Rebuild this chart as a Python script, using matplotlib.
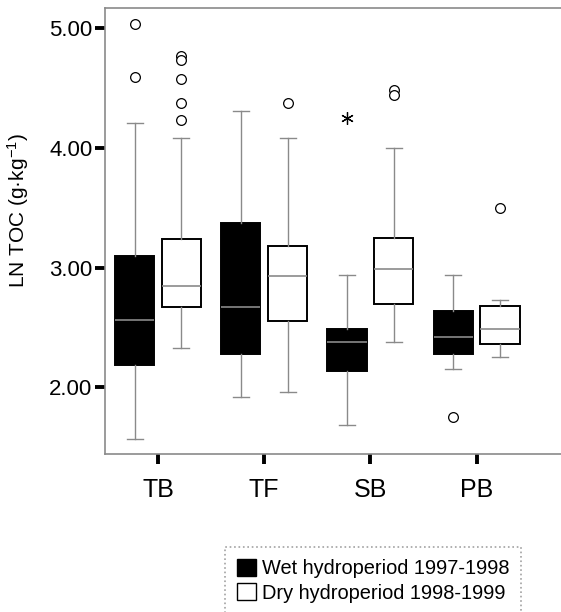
import matplotlib
matplotlib.use("Agg")
import matplotlib.pyplot as plt
from matplotlib.patches import Patch

plt.rcParams['font.family'] = ['Liberation Sans', 'DejaVu Sans']
plt.rcParams['mathtext.fontset'] = 'custom'
plt.rcParams['mathtext.rm'] = 'Liberation Sans'
plt.rcParams['mathtext.default'] = 'regular'

sites = ["TB", "TF", "SB", "PB"]
series = ["Wet hydroperiod 1997-1998", "Dry hydroperiod 1998-1999"]

# five-number summaries per site: (whislo, q1, med, q3, whishi)
wet_stats = [
    (1.57, 2.19, 2.56, 3.10, 4.21),
    (1.92, 2.28, 2.67, 3.37, 4.31),
    (1.69, 2.14, 2.38, 2.49, 2.94),
    (2.15, 2.28, 2.42, 2.64, 2.94),
]
dry_stats = [
    (2.33, 2.67, 2.85, 3.24, 4.08),
    (1.96, 2.55, 2.93, 3.18, 4.08),
    (2.38, 2.70, 2.99, 3.25, 4.00),
    (2.25, 2.36, 2.49, 2.68, 2.73),
]
wet_outliers = [[5.03, 4.59], [], [], [1.75]]
wet_extremes = [[], [], [4.25], []]
dry_outliers = [[4.77, 4.73, 4.57, 4.37, 4.23], [4.37], [4.48, 4.44], [3.50]]

fig = plt.figure(figsize=(5.61, 6.12), dpi=100)
ax = fig.add_axes([0.187, 0.258, 0.85, 0.729])

grey = "#8a8a8a"
offset = 0.22
width = 0.37

def make(stats, fl):
    out = []
    for (lo, q1, med, q3, hi), f in zip(stats, fl):
        out.append(dict(whislo=lo, q1=q1, med=med, q3=q3, whishi=hi, fliers=f))
    return out

positions = list(range(len(sites)))
for stats, fl, ext, face, dx in [
    (wet_stats, wet_outliers, wet_extremes, "black", -offset),
    (dry_stats, dry_outliers, [[] for _ in sites], "white", offset),
]:
    ax.bxp(make(stats, fl), positions=[p + dx for p in positions], widths=width,
           patch_artist=True, showfliers=True,
           boxprops=dict(facecolor=face, edgecolor="black", linewidth=1.4),
           medianprops=dict(color=grey, linewidth=1.2),
           whiskerprops=dict(color=grey, linewidth=1.0),
           capprops=dict(color=grey, linewidth=1.0),
           capwidths=0.15,
           flierprops=dict(marker="o", markerfacecolor="white", markeredgecolor="black",
                           markersize=7, markeredgewidth=0.9, linestyle="none"))
    for p, e in zip(positions, ext):
        if e:
            ax.plot([p + dx] * len(e), e, linestyle="none", marker=(6, 2, 0),
                    markersize=9, color="black", markeredgewidth=0.9)

ax.set_xlim(-0.5, 3.99)
ax.set_ylim(1.443, 5.167)
ax.set_xticks(positions)
ax.set_xticklabels(sites, fontsize=18)
ax.set_yticks([2, 3, 4, 5])
ax.set_yticklabels(["2.00", "3.00", "4.00", "5.00"], fontsize=16)
ax.tick_params(axis="both", direction="out", length=7, width=2.8, color="black", pad=2)
ax.tick_params(axis="x", pad=10)
for s in ["left", "bottom", "top"]:
    ax.spines[s].set_color(grey)
    ax.spines[s].set_linewidth(1.2)
ax.spines["right"].set_visible(False)
ax.set_ylabel("LN TOC (g·kg$^{-1}$)", fontsize=15)
ax.yaxis.set_label_coords(-0.155, 0.545)

handles = [Patch(facecolor="black", edgecolor="black", label=series[0]),
           Patch(facecolor="white", edgecolor="black", label=series[1])]
leg = fig.legend(handles=handles, loc="upper left", bbox_to_anchor=(0.401, 0.107),
                 fontsize=14.4, frameon=True, fancybox=False, handlelength=0.95,
                 handleheight=0.95, handletextpad=0.3, borderpad=0.6, labelspacing=0.25,
                 borderaxespad=0)
leg.get_frame().set_edgecolor(grey)
leg.get_frame().set_linestyle(":")
leg.get_frame().set_linewidth(1.2)

fig.savefig("out.png", dpi=100)
